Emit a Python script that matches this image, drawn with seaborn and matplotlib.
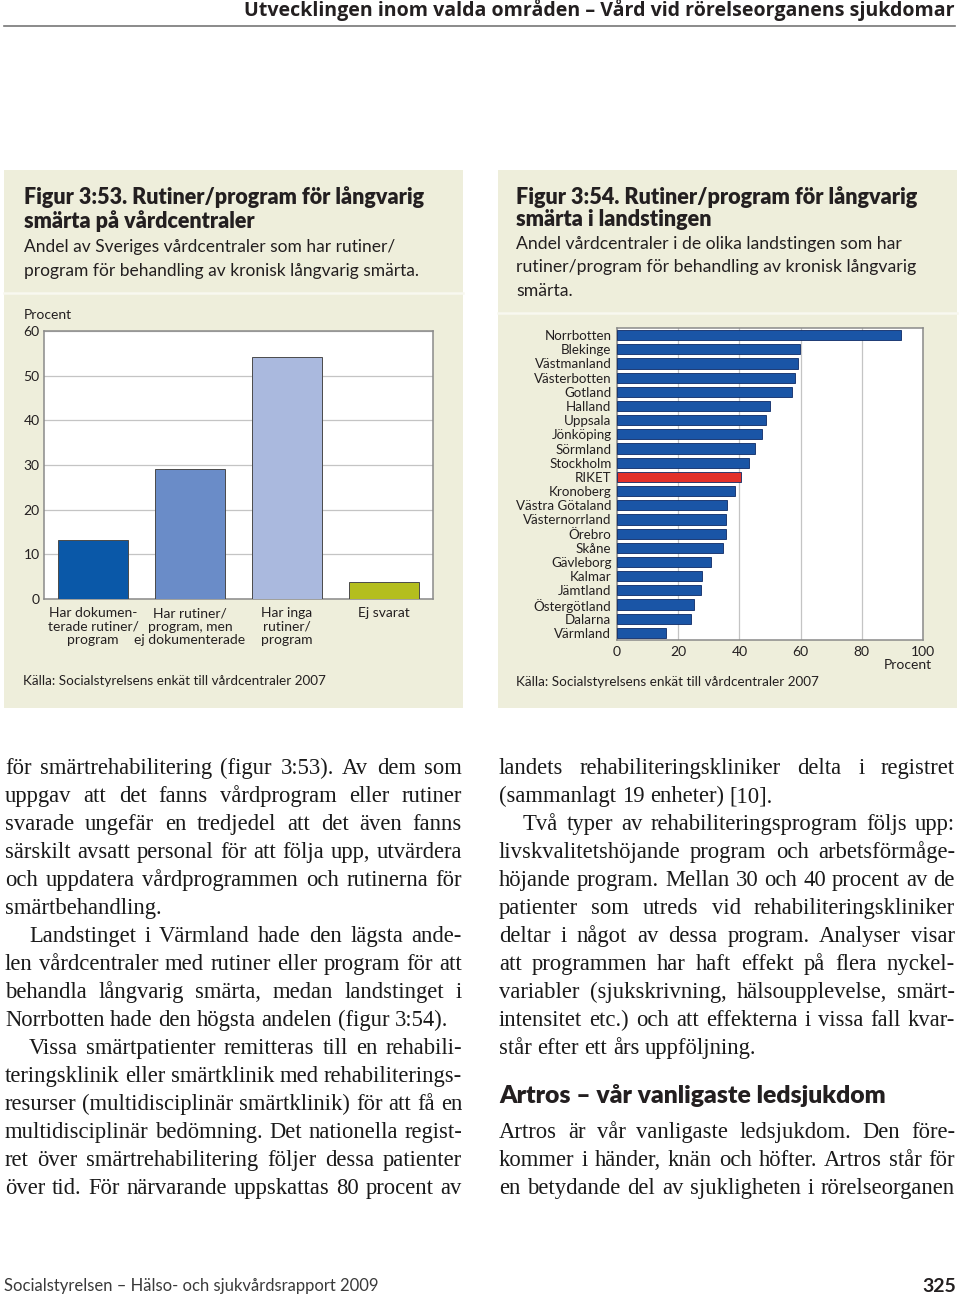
import matplotlib
matplotlib.use("Agg")
import matplotlib.pyplot as plt
import numpy as np
import pandas as pd
import seaborn as sns
from matplotlib.patches import Rectangle

# ---- data ----
svar = ["Har dokumen-\nterade rutiner/\nprogram",
        "Har rutiner/\nprogram, men\nej dokumenterade",
        "Har inga\nrutiner/\nprogram",
        "Ej svarat"]
svar_andel = [13.2, 29.0, 54.2, 3.9]
svar_farg = ["#0a58a8", "#6a8cc8", "#aab9de", "#b4be1e"]

landsting = ["Norrbotten", "Blekinge", "Västmanland", "Västerbotten", "Gotland",
             "Halland", "Uppsala", "Jönköping", "Sörmland", "Stockholm", "RIKET",
             "Kronoberg", "Västra Götaland", "Västernorrland", "Örebro", "Skåne",
             "Gävleborg", "Kalmar", "Jämtland", "Östergötland", "Dalarna", "Värmland"]
landsting_andel = [92.9, 59.9, 59.2, 58.1, 57.1, 50.0, 48.6, 47.3, 45.0, 43.1, 40.5,
                   38.5, 35.8, 35.6, 35.6, 34.7, 30.8, 27.7, 27.3, 25.1, 24.1, 16.0]

vanster_text = [
    (False, True, "för smärtrehabilitering (figur 3:53). Av dem som"),
    (False, True, "uppgav att det fanns vårdprogram eller rutiner"),
    (False, True, "svarade ungefär en tredjedel att det även fanns"),
    (False, True, "särskilt avsatt personal för att följa upp, utvärdera"),
    (False, True, "och uppdatera vårdprogrammen och rutinerna för"),
    (False, False, "smärtbehandling."),
    (True, True, "Landstinget i Värmland hade den lägsta ande-"),
    (False, True, "len vårdcentraler med rutiner eller program för att"),
    (False, True, "behandla långvarig smärta, medan landstinget i"),
    (False, False, "Norrbotten hade den högsta andelen (figur 3:54)."),
    (True, True, "Vissa smärtpatienter remitteras till en rehabili-"),
    (False, True, "teringsklinik eller smärtklinik med rehabiliterings-"),
    (False, True, "resurser (multidisciplinär smärtklinik) för att få en"),
    (False, True, "multidisciplinär bedömning. Det nationella regist-"),
    (False, True, "ret över smärtrehabilitering följer dessa patienter"),
    (False, True, "över tid. För närvarande uppskattas 80 procent av"),
]
hoger_text = [
    (False, True, "landets rehabiliteringskliniker delta i registret"),
    (False, False, "(sammanlagt 19 enheter) [10]."),
    (True, True, "Två typer av rehabiliteringsprogram följs upp:"),
    (False, True, "livskvalitetshöjande program och arbetsförmåge-"),
    (False, True, "höjande program. Mellan 30 och 40 procent av de"),
    (False, True, "patienter som utreds vid rehabiliteringskliniker"),
    (False, True, "deltar i något av dessa program. Analyser visar"),
    (False, True, "att programmen har haft effekt på flera nyckel-"),
    (False, True, "variabler (sjukskrivning, hälsoupplevelse, smärt-"),
    (False, True, "intensitet etc.) och att effekterna i vissa fall kvar-"),
    (False, False, "står efter ett års uppföljning."),
]
artros_text = [
    (False, True, "Artros är vår vanligaste ledsjukdom. Den före-"),
    (False, True, "kommer i händer, knän och höfter. Artros står för"),
    (False, True, "en betydande del av sjukligheten i rörelseorganen"),
]

W, H = 960, 1302
SANS = "Lato"
SERIF = "Liberation Serif"
INK = "#231f20"
PANEL = "#eeeedb"

fig = plt.figure(figsize=(W / 100, H / 100), dpi=100)
fig.patch.set_facecolor("white")
renderer = fig.canvas.get_renderer()


def fx(x):
    return x / W


def fy(y):
    return 1 - y / H


def measure(s, size, **kw):
    t = fig.text(0, 0, s, fontsize=size, **kw)
    w = t.get_window_extent(renderer).width
    t.remove()
    return w


def fit(x, y, s, width, **kw):
    kw.setdefault("color", INK)
    t = fig.text(fx(x), fy(y), s, fontsize=10, **kw)
    w = t.get_window_extent(renderer).width
    t.set_fontsize(10 * width / w)
    return t.get_fontsize()


def txt(x, y, s, size, **kw):
    kw.setdefault("color", INK)
    return fig.text(fx(x), fy(y), s, fontsize=size, **kw)


# ---- header / footer ----
fit(955, 16, "Utvecklingen inom valda områden – Vård vid rörelseorganens sjukdomar", 712,
    family="Open Sans", fontweight="bold", ha="right", va="baseline")
fig.add_artist(plt.Line2D([fx(4), fx(955)], [fy(26), fy(26)], color="#777777", lw=1.2))
fit(4, 1286, "Socialstyrelsen – Hälso- och sjukvårdsrapport 2009", 376,
    family=SANS, ha="left", va="center", color="#3a3a3a")
txt(956, 1286, "325", 14, family=SANS, fontweight="bold", ha="right", va="center")

# ---- panels ----
for x0, sep in [(4, 293), (498, 313)]:
    fig.add_artist(Rectangle((fx(x0), fy(708)), 459 / W, 538 / H,
                             transform=fig.transFigure, facecolor=PANEL, edgecolor="none", zorder=0))
    fig.add_artist(plt.Line2D([fx(x0), fx(x0 + 459)], [fy(sep), fy(sep)],
                              color="#f8f8f0", lw=1.8, zorder=1))

# panel titles
s = fit(24, 197, "Figur 3:53. Rutiner/program för långvarig", 402,
        family=SANS, fontweight="heavy", ha="left", va="center")
txt(24, 221, "smärta på vårdcentraler", s, family=SANS, fontweight="heavy", ha="left", va="center")
s = fit(24, 271, "program för behandling av kronisk långvarig smärta.", 393,
        family=SANS, ha="left", va="center")
txt(24, 247, "Andel av Sveriges vårdcentraler som har rutiner/", s, family=SANS, ha="left", va="center")

s = fit(516, 197, "Figur 3:54. Rutiner/program för långvarig", 405,
        family=SANS, fontweight="heavy", ha="left", va="center")
txt(516, 220, "smärta i landstingen", s, family=SANS, fontweight="heavy", ha="left", va="center")
s = fit(516, 267, "rutiner/program för behandling av kronisk långvarig", 400,
        family=SANS, ha="left", va="center")
txt(516, 244, "Andel vårdcentraler i de olika landstingen som har", s, family=SANS, ha="left", va="center")
txt(516, 291, "smärta.", s, family=SANS, ha="left", va="center")

fit(23, 681, "Källa: Socialstyrelsens enkät till vårdcentraler 2007", 302, family=SANS, ha="left", va="center")
fit(516, 682, "Källa: Socialstyrelsens enkät till vårdcentraler 2007", 302, family=SANS, ha="left", va="center")

# ---- figur 3:53 ----
ax1 = fig.add_axes([fx(44), fy(599), 389 / W, 268 / H])
df1 = pd.DataFrame({"svar": svar, "andel": svar_andel})
sns.barplot(data=df1, x="svar", y="andel", hue="svar", palette=dict(zip(svar, svar_farg)),
            saturation=1, width=0.72, edgecolor="#4a4a4a", linewidth=0.7, legend=False,
            ax=ax1, zorder=3)
ax1.set_xlim(-0.505, 3.505)
ax1.set_ylim(0, 60)
ax1.set_yticks(range(0, 61, 10))
ax1.set_xlabel("")
ax1.set_ylabel("")
ax1.set_facecolor("white")
ax1.grid(axis="y", color="#c4c4c4", lw=0.9, zorder=0)
ax1.set_axisbelow(True)
for sp in ax1.spines.values():
    sp.set_color("#8a8a8a")
    sp.set_linewidth(1.1)
ax1.tick_params(length=0, labelsize=10, labelcolor=INK, pad=3)
ax1.tick_params(axis="x", pad=6)
for lab in ax1.get_xticklabels() + ax1.get_yticklabels():
    lab.set_family(SANS)
for lab in ax1.get_xticklabels():
    lab.set_verticalalignment("top")
    lab.set_linespacing(1.12)
txt(24, 315, "Procent", 10, family=SANS, ha="left", va="center")

# ---- figur 3:54 ----
ax2 = fig.add_axes([fx(617), fy(640), 306 / W, 312 / H])
df2 = pd.DataFrame({"landsting": landsting, "andel": landsting_andel})
farg2 = {n: ("#e2302a" if n == "RIKET" else "#1a55a6") for n in landsting}
kant2 = ["#7a1a16" if n == "RIKET" else "#0d2a66" for n in landsting]
sns.barplot(data=df2, x="andel", y="landsting", hue="landsting", palette=farg2, orient="h",
            saturation=1, width=0.72, edgecolor=kant2, linewidth=0.6, legend=False,
            ax=ax2, zorder=3)
ax2.set_xlim(0, 100)
ax2.set_xticks(range(0, 101, 20))
ax2.set_xlabel("")
ax2.set_ylabel("")
ax2.set_facecolor("white")
ax2.grid(axis="x", color="#c4c4c4", lw=0.9, zorder=0)
ax2.set_axisbelow(True)
for sp in ax2.spines.values():
    sp.set_color("#8a8a8a")
    sp.set_linewidth(1.1)
ax2.tick_params(length=0, labelsize=10, labelcolor=INK)
ax2.tick_params(axis="y", pad=4, labelsize=9.6)
ax2.tick_params(axis="x", pad=4)
for lab in ax2.get_xticklabels() + ax2.get_yticklabels():
    lab.set_family(SANS)
txt(932, 665, "Procent", 10, family=SANS, ha="right", va="center")


# ---- body text (justified) ----
def px(size):
    return size * 100 / 72


def need_size(lines, width, base=16.0):
    best = 16.3
    for indent, just, s in lines:
        if not just:
            continue
        words = s.split()
        tot = sum(measure(w, base, family=SERIF) for w in words) / base
        avail = width - (24 if indent else 0)
        best = min(best, avail / (tot + 0.2 * px(1) * (len(words) - 1)))
    return best


def body(lines, x0, x1, y0, size):
    for i, (indent, just, s) in enumerate(lines):
        y = y0 + 28 * i
        words = s.split()
        ws = [measure(w, size, family=SERIF) for w in words]
        start = x0 + (24 if indent else 0)
        if just and len(words) > 1:
            gap = (x1 - start - sum(ws)) / (len(words) - 1)
        else:
            gap = 0.25 * px(size)
        x = start
        for w, wd in zip(words, ws):
            txt(x, y, w, size, family=SERIF, ha="left", va="baseline", color="#1a1a1a")
            x += wd + gap


size = min(need_size(vanster_text, 457), need_size(hoger_text + artros_text, 456))
body(vanster_text, 5, 462, 774, size)
body(hoger_text, 499, 955, 774, size)
fit(499, 1103, "Artros – vår vanligaste ledsjukdom", 389,
    family=SANS, fontweight="heavy", ha="left", va="baseline")
body(artros_text, 499, 955, 1138, size)

fig.savefig("out.png", dpi=100)
